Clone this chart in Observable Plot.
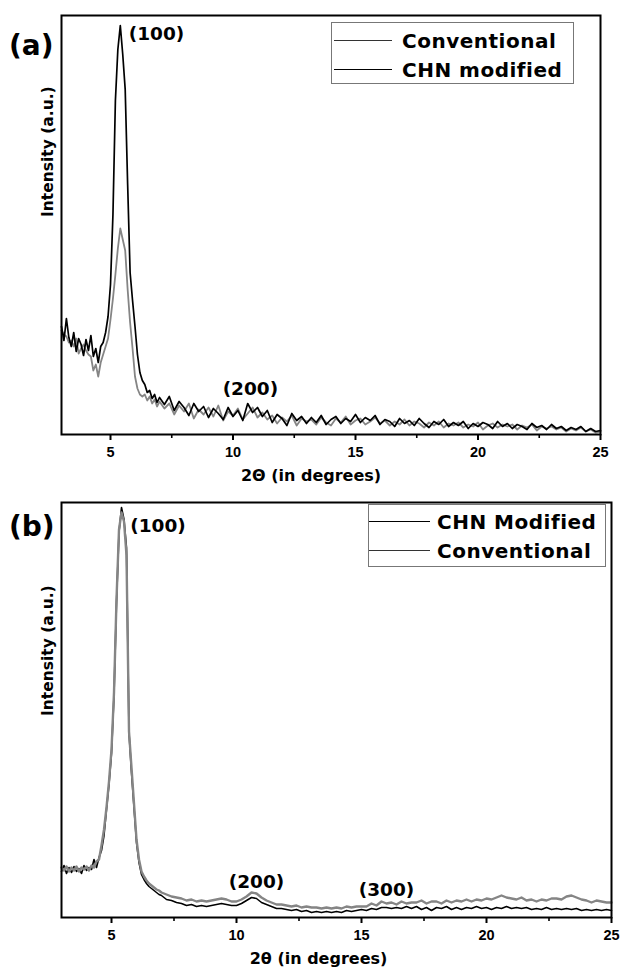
<!DOCTYPE html>
<html>
<head>
<meta charset="utf-8">
<script src="https://cdn.jsdelivr.net/npm/d3@7"></script>
<script src="https://cdn.jsdelivr.net/npm/@observablehq/plot@0.6"></script>
<style>
  body { margin: 0; background: #fff; }
  #wrap { position: relative; width: 622px; height: 967px; overflow: hidden; background: #fff; }
  .panel { position: absolute; left: 0; }
  .tag { position: absolute; left: 9px; font-family: "DejaVu Sans", sans-serif; font-weight: bold; font-size: 28px; line-height: 28px; }
  .legend { position: absolute; box-sizing: border-box; border: 1px solid #777; background: #fff;
            font-family: "DejaVu Sans", sans-serif; font-weight: bold; font-size: 20px; letter-spacing: 0.5px; }
  .row { display: flex; align-items: center; height: 29px; white-space: nowrap; }
  .sw { height: 0; border-top: 1.6px solid #000; flex: none; }
</style>
</head>
<body>
<div id="wrap">
  <div class="panel" id="pa" style="top:0px"></div>
  <div class="panel" id="pb" style="top:484px"></div>
  <div class="tag" style="top:32px">(a)</div>
  <div class="tag" style="top:513px">(b)</div>
  <div class="legend" id="la" style="left:331px; top:22px; width:243px; height:62px; padding-top:3px"></div>
  <div class="legend" id="lb" style="left:368px; top:504px; width:238px; height:63px; padding-top:2px"></div>
</div>
<script>
// ---- data ----
const twoTheta = [
  3.0,3.1,3.2,3.3,3.4,3.5,3.6,3.7,3.8,3.9,
  4.0,4.1,4.2,4.3,4.4,4.5,4.6,4.7,4.8,4.9,
  5.0,5.1,5.2,5.3,5.4,5.5,5.6,5.7,5.8,5.9,
  6.0,6.1,6.2,6.3,6.4,6.5,6.6,6.7,6.8,6.9,
  7.0,
  7.2,7.4,7.6,7.8,8.0,8.2,8.4,8.6,8.8,9.0,
  9.2,9.4,9.6,9.8,10.0,10.2,10.4,10.6,10.8,11.0,
  11.2,11.4,11.6,11.8,12.0,12.2,12.4,12.6,12.8,13.0,
  13.2,13.4,13.6,13.8,14.0,14.2,14.4,14.6,14.8,15.0,
  15.2,15.4,15.6,15.8,16.0,16.2,16.4,16.6,16.8,17.0,
  17.2,17.4,17.6,17.8,18.0,18.2,18.4,18.6,18.8,19.0,
  19.2,19.4,19.6,19.8,20.0,20.2,20.4,20.6,20.8,21.0,
  21.2,21.4,21.6,21.8,22.0,22.2,22.4,22.6,22.8,23.0,
  23.2,23.4,23.6,23.8,24.0,24.2,24.4,24.6,24.8,25.0
];

// panel (a)
const chnA = [
  108,94,116,97,88,102,83,96,90,79,
  95,84,99,78,86,72,88,92,102,118,
  150,220,334,385,409,380,345,250,162,134,
  108,80,62,54,50,42,44,36,40,32,
  37,
  30,38,24,33,27,19,31,23,28,17,
  26,21,15,27,18,24,14,31,22,27,
  18,24,12,20,16,9,21,14,18,11,
  17,12,19,10,15,18,11,16,13,20,
  12,17,14,19,10,15,13,8,16,11,
  14,9,16,11,7,13,10,15,8,12,
  9,13,6,11,8,12,10,6,13,8,
  11,6,10,8,5,11,7,9,5,10,
  6,8,4,7,5,8,3,6,3,4
];
const convA = [
  104,100,98,92,94,88,96,81,86,90,
  84,80,78,64,70,58,72,80,88,96,
  115,136,160,186,206,195,184,145,112,86,
  58,46,40,38,40,34,38,31,35,28,
  33,
  26,31,20,29,23,31,16,25,20,27,
  18,29,14,23,19,26,15,21,27,17,
  22,15,19,11,17,13,19,9,16,13,
  15,10,17,12,9,16,12,18,10,14,
  16,10,13,17,11,14,9,13,10,15,
  9,13,11,7,12,9,13,7,11,9,
  12,7,10,8,12,5,9,11,7,10,
  8,10,5,9,7,10,4,8,6,8,
  5,7,3,6,4,7,3,5,2,3
];

// panel (b)
const chnB = [
  46,52,44,50,45,51,46,49,44,52,
  47,50,48,58,50,60,67,82,108,133,
  164,222,315,385,410,398,370,185,145,110,
  75,55,43,38,34,31,29,27,25,23,
  22,
  18,17,15,14,12,13,11,12,11,12,
  13,14,13,12,12,14,17,20,19,15,
  13,11,9,9,8,7,8,6,7,5,
  6,5,6,5,6,5,7,6,7,8,
  7,9,8,10,10,9,10,9,11,9,
  11,8,10,7,10,9,11,8,10,8,
  10,9,11,9,10,8,10,9,11,9,
  10,9,10,8,9,8,10,8,9,8,
  9,8,9,7,8,7,8,7,8,7
];
const convB = [
  50,47,51,46,50,47,51,46,50,48,
  51,47,52,50,56,58,72,88,110,136,
  168,225,318,388,405,396,362,186,150,114,
  78,58,46,41,37,34,32,30,28,27,
  25,
  23,21,20,19,17,18,16,17,16,17,
  18,19,18,16,16,18,21,25,24,20,
  17,15,13,13,12,11,12,10,11,10,
  10,9,10,9,10,9,11,10,11,11,
  11,14,12,16,14,15,13,16,14,15,
  15,17,14,16,16,14,17,15,17,16,
  18,16,18,17,19,18,20,22,20,19,
  18,20,17,18,16,18,17,19,19,18,
  21,22,20,18,17,15,17,16,15,15
];

const majorTicks = [5, 10, 15, 20, 25];
const minorTicks = [7.5, 12.5, 17.5, 22.5];

const seriesA = ["Conventional", "CHN modified"];
const seriesB = ["CHN Modified", "Conventional"];

const peakLabelA = ["(100)", "(200)"];
const peakXA = [6.88, 10.71];
const peakYA = [400, 45];
const peakLabelB = ["(100)", "(200)", "(300)"];
const peakXB = [6.86, 10.8, 16.0];
const peakYB = [391, 35, 27];

const xLabelA = "2Θ (in degrees)";
const xLabelB = "2θ (in degrees)";
const yLabel = "Intensity (a.u.)";

// ---- helpers ----
const GREY = "#858585";
const rows = (vals) => twoTheta.map((t, i) => ({t, v: vals[i]}));
const peaks = (labels, xs, ys) => labels.map((l, i) => ({l, x: xs[i], y: ys[i]}));

function panel({seriesBottom, seriesTop, bottomStyle, topStyle, ymax, marginTop, height, marginRight, labels, xLabel, xdx, ydy}) {
  return Plot.plot({
    width: 622,
    height,
    marginTop,
    marginLeft: 61,
    marginRight,
    marginBottom: 50,
    x: {domain: [3, 25]},
    y: {domain: [0, ymax], axis: null},
    style: {fontFamily: "'Liberation Sans', Arial, sans-serif", fontWeight: "bold", fontSize: "14px", color: "#000", background: "#fff"},
    marks: [
      Plot.line(rows(seriesBottom), {x: "t", y: "v", ...bottomStyle}),
      Plot.line(rows(seriesTop), {x: "t", y: "v", ...topStyle}),
      Plot.axisX({ticks: majorTicks, tickSize: 6, tickPadding: 6, strokeWidth: 2, label: null, fontSize: 14.5}),
      Plot.axisX({ticks: minorTicks, tickSize: 4, strokeWidth: 1.6, tickFormat: () => "", label: null}),
      Plot.frame({stroke: "#000", strokeWidth: 2}),
      Plot.text(labels, {x: "x", y: "y", text: "l", fontFamily: "DejaVu Sans, sans-serif", fontWeight: "bold", fontSize: 18.5, textAnchor: "middle"}),
      Plot.text([xLabel], {text: d => d, frameAnchor: "bottom", lineAnchor: "middle", dx: xdx, dy: 41, fontFamily: "DejaVu Sans, sans-serif", fontWeight: "bold", fontSize: 16}),
      Plot.text([yLabel], {text: d => d, frameAnchor: "left", lineAnchor: "middle", rotate: -90, dx: -13, dy: ydy, fontFamily: "DejaVu Sans, sans-serif", fontWeight: "bold", fontSize: 15.5})
    ]
  });
}

document.getElementById("pa").append(panel({
  seriesBottom: convA, bottomStyle: {stroke: GREY, strokeWidth: 1.8},
  seriesTop: chnA, topStyle: {stroke: "#000", strokeWidth: 1.7},
  ymax: 419, marginTop: 15, height: 484, marginRight: 22,
  labels: peaks(peakLabelA, peakXA, peakYA), xLabel: xLabelA, xdx: -20, ydy: -8
}));

document.getElementById("pb").append(panel({
  seriesBottom: chnB, bottomStyle: {stroke: "#000", strokeWidth: 1.6},
  seriesTop: convB, topStyle: {stroke: GREY, strokeWidth: 2.4},
  ymax: 415, marginTop: 18, height: 483, marginRight: 11,
  labels: peaks(peakLabelB, peakXB, peakYB), xLabel: xLabelB, xdx: -18, ydy: 6
}));

// legends
function legend(id, names, colors, swW, swML, swMR) {
  const el = document.getElementById(id);
  names.forEach((n, i) => {
    const r = document.createElement("div");
    r.className = "row";
    const s = document.createElement("span");
    s.className = "sw";
    s.style.width = swW + "px";
    s.style.marginLeft = swML + "px";
    s.style.marginRight = swMR + "px";
    s.style.borderTopColor = colors[i];
    const t = document.createElement("span");
    t.textContent = n;
    r.append(s, t);
    el.append(r);
  });
}
legend("la", seriesA, ["#333", "#000"], 58, 2, 10);
legend("lb", seriesB, ["#000", "#333"], 61, 0, 7);
</script>
</body>
</html>
